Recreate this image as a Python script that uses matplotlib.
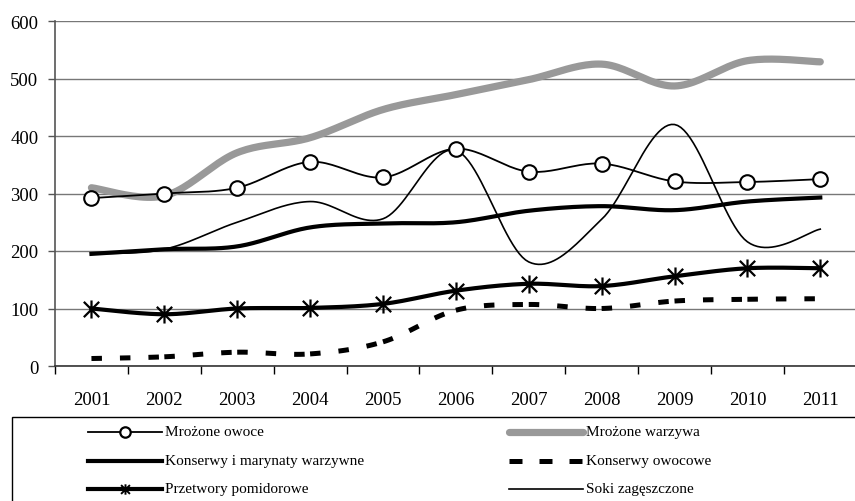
import numpy as np
import matplotlib
matplotlib.use('Agg')
import matplotlib.pyplot as plt
from matplotlib.lines import Line2D
from matplotlib.patches import Rectangle
from matplotlib.path import Path

plt.rcParams['font.family'] = ['Liberation Serif', 'DejaVu Serif']

years = ['2001', '2002', '2003', '2004', '2005', '2006', '2007', '2008', '2009', '2010', '2011']

mrozone_owoce = [292, 300, 310, 355, 328, 378, 338, 352, 321, 320, 325]
mrozone_warzywa = [310, 296, 371, 397, 446, 472, 498, 525, 487, 531, 529]
konserwy_warzywne = [195, 203, 208, 241, 248, 250, 270, 278, 271, 286, 293]
konserwy_owocowe = [13, 16, 24, 21, 42, 97, 107, 100, 113, 116, 117]
przetwory_pomidorowe = [100, 90, 100, 101, 108, 131, 143, 139, 156, 170, 170]
soki_zageszczone = [195, 203, 250, 286, 256, 375, 181, 255, 420, 216, 238]

y_ticks = [0, 100, 200, 300, 400, 500, 600]


def smooth_segments(values, steps=24):
    # Excel-like smoothed line (Catmull-Rom as bezier), one piece per interval
    x = np.arange(len(values), dtype=float)
    y = np.asarray(values, dtype=float)
    px = np.concatenate([[x[0]], x, [x[-1]]])
    py = np.concatenate([[y[0]], y, [y[-1]]])
    t = np.linspace(0, 1, steps)
    segs = []
    for i in range(1, len(px) - 2):
        p0 = np.array([px[i], py[i]])
        p3 = np.array([px[i + 1], py[i + 1]])
        b1 = p0 + (p3 - np.array([px[i - 1], py[i - 1]])) / 6
        b2 = p3 - (np.array([px[i + 2], py[i + 2]]) - p0) / 6
        pts = ((1 - t) ** 3)[:, None] * p0 + (3 * (1 - t) ** 2 * t)[:, None] * b1 \
            + (3 * (1 - t) * t ** 2)[:, None] * b2 + (t ** 3)[:, None] * p3
        segs.append((pts[:, 0], pts[:, 1]))
    return segs


def smooth(values):
    segs = smooth_segments(values)
    xs = np.concatenate([s[0] for s in segs])
    ys = np.concatenate([s[1] for s in segs])
    return xs, ys


# Excel "star" marker: an X with a vertical bar through it
star = Path([(0, -1), (0, 1), (-0.85, -0.85), (0.85, 0.85), (-0.85, 0.85), (0.85, -0.85)],
            [Path.MOVETO, Path.LINETO] * 3)
dash = (0, (2.1, 3.6))

fig = plt.figure(figsize=(8.55, 5.02), dpi=100)
ax = fig.add_axes([55 / 855, (502 - 367) / 502, 1 - 55 / 855 + 0.002, 345 / 502])

x = np.arange(len(years))

series = [
    (mrozone_warzywa, dict(color='#999999', lw=5.2, solid_capstyle='round'), None),
    (konserwy_warzywne, dict(color='black', lw=3.0), None),
    (konserwy_owocowe, dict(color='black', lw=3.6, ls=dash), None),
    (soki_zageszczone, dict(color='black', lw=1.2), None),
    (przetwory_pomidorowe, dict(color='black', lw=3.0),
     dict(marker=star, ms=13, mec='black', mew=1.6)),
    (mrozone_owoce, dict(color='black', lw=1.3),
     dict(marker='o', ms=10.5, mfc='white', mec='black', mew=1.5)),
]

for i, (vals, style, mk) in enumerate(series):
    if style.get('ls') == dash:
        # Excel restarts the dash pattern at every data point
        for sx, sy in smooth_segments(vals):
            ax.plot(sx, sy, zorder=3 + i, **style)
    else:
        sx, sy = smooth(vals)
        ax.plot(sx, sy, zorder=3 + i, **style)
    if mk is not None:
        ax.plot(x, vals, ls='none', zorder=10 + i, **mk)

ax.set_xlim(-0.5, len(years) - 0.5)
ax.set_ylim(0, 600)
ax.set_yticks(y_ticks)
ax.set_yticklabels([str(v) for v in y_ticks], fontsize=13.5)
ax.set_xticks(np.arange(-0.5, len(years), 1.0))
ax.set_xticklabels([])
ax.set_xticks(x, minor=True)
ax.set_xticklabels(years, minor=True, fontsize=13.5)
ax.tick_params(axis='x', which='major', length=6, width=1, color='black')
ax.tick_params(axis='x', which='minor', length=0, pad=18)
ax.tick_params(axis='y', length=5, width=1, color='#555555', pad=7)

ax.grid(axis='y', color='#777777', lw=1)
ax.set_axisbelow(True)
for s in ['top', 'right']:
    ax.spines[s].set_visible(False)
ax.spines['left'].set_color('#555555')
ax.spines['left'].set_linewidth(1.2)
ax.spines['bottom'].set_color('#333333')
ax.spines['bottom'].set_linewidth(1.2)

# legend box, laid out like the Excel one
fig.patches.append(Rectangle((12 / 855, -0.05), 1.0, (502 - 418) / 502 + 0.05,
                             transform=fig.transFigure, fill=False,
                             edgecolor='black', lw=1.0))

legend_items = [
    ('Mrożone owoce', dict(color='black', lw=1.3),
     dict(marker='o', ms=7.5, mfc='white', mec='black', mew=1.6)),
    ('Mrożone warzywa', dict(color='#999999', lw=5.2, solid_capstyle='round'), None),
    ('Konserwy i marynaty warzywne', dict(color='black', lw=3.0), None),
    ('Konserwy owocowe', dict(color='black', lw=3.6, ls=(0, (2.6, 3.4))), None),
    ('Przetwory pomidorowe', dict(color='black', lw=3.0),
     dict(marker=star, ms=7.5, mec='black', mew=1.4)),
    ('Soki zagęszczone', dict(color='black', lw=1.2), None),
]
col_x = [(88, 162), (509, 583)]
row_y = [433, 462, 490]
for k, (label, style, mk) in enumerate(legend_items):
    c, r = k % 2, k // 2
    x0, x1 = col_x[c]
    yy = 1 - row_y[r] / 502
    fig.add_artist(Line2D([x0 / 855, x1 / 855], [yy, yy], transform=fig.transFigure, **style))
    if mk is not None:
        fig.add_artist(Line2D([(x0 + x1) / 2 / 855], [yy], transform=fig.transFigure,
                              ls='none', **mk))
    fig.text((x1 + 3) / 855, yy, label, fontsize=11, va='center', ha='left')

fig.savefig('out.png', dpi=100)
